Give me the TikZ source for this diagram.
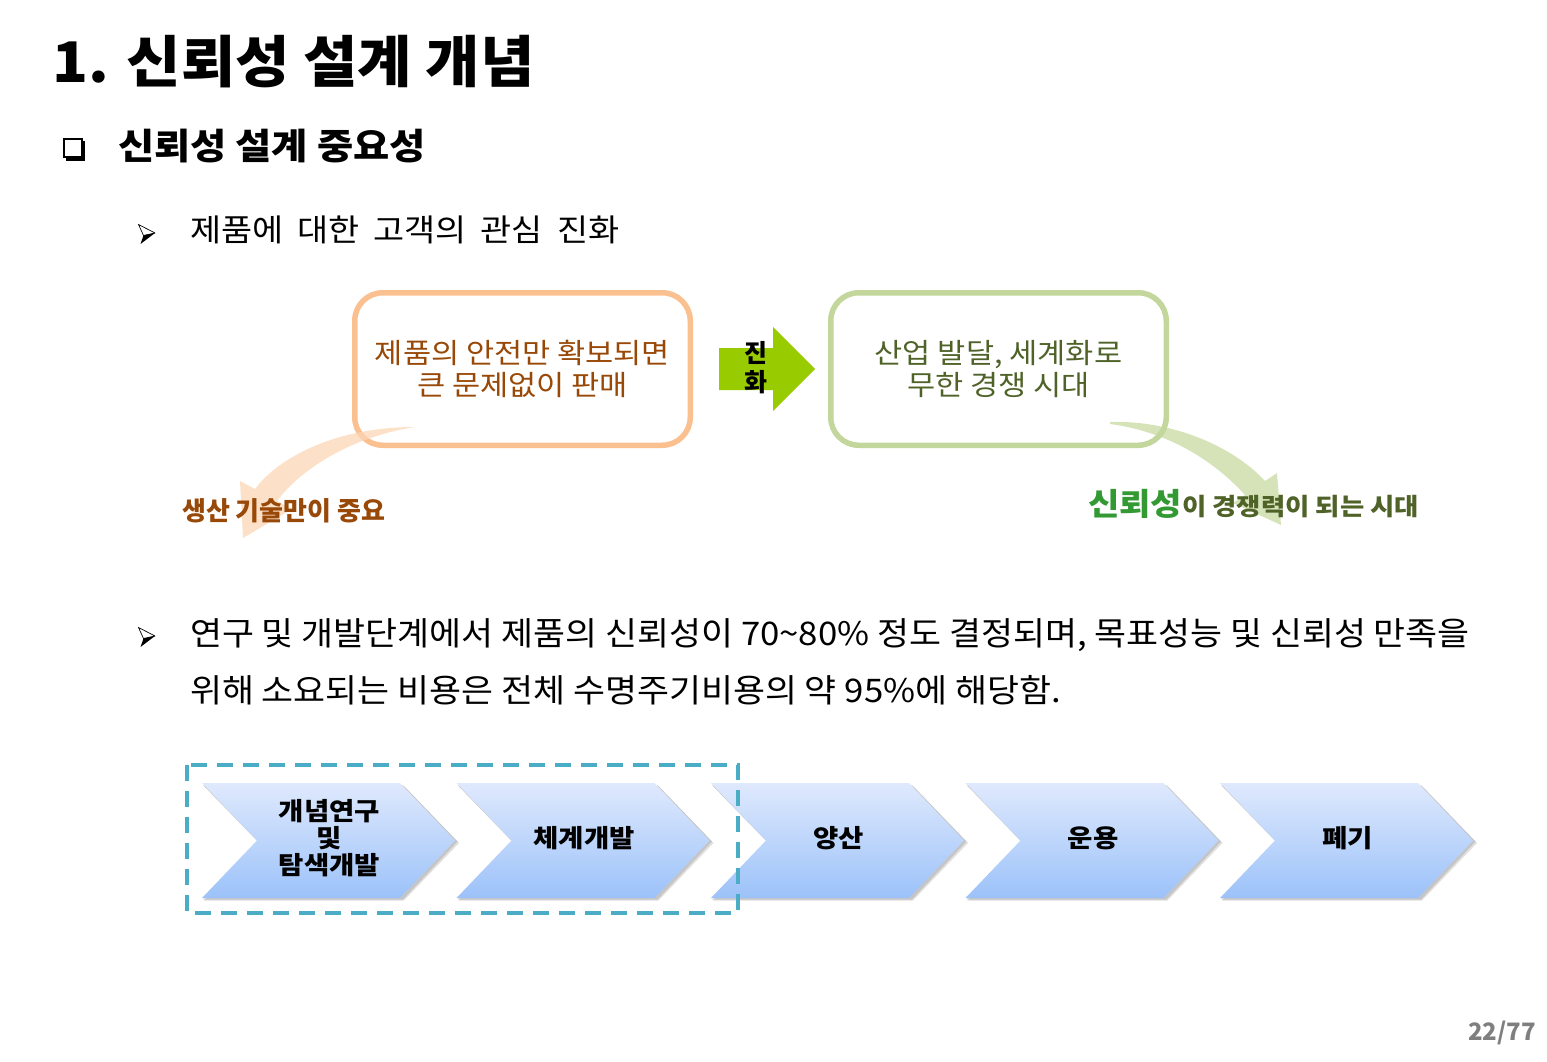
\documentclass[tikz,border=0pt]{standalone}
\usepackage{fontspec}
\setmainfont{Noto Sans CJK KR}
\definecolor{orangeB}{HTML}{FAC090}
\definecolor{greenB}{HTML}{C3D69B}
\definecolor{brownT}{HTML}{984807}
\definecolor{oliveT}{HTML}{4F6228}
\definecolor{relgreen}{HTML}{339933}
\definecolor{evoGreen}{HTML}{99CC00}
\definecolor{dashBlue}{HTML}{4BACC6}
\definecolor{chevTop}{HTML}{DFE9FD}
\definecolor{chevBot}{HTML}{9CC2F9}
\definecolor{peachArrow}{RGB}{252,213,181}
\definecolor{leafArrow}{RGB}{196,215,155}
\definecolor{pageGray}{HTML}{7F7F7F}
\newcommand{\fsz}[2]{\fontsize{#1}{#2}\selectfont}
\newcommand{\stretchby}[1]{\addfontfeatures{FakeStretch=#1}}
\newcommand{\wsp}{\hspace{14pt}}
\begin{document}
\begin{tikzpicture}[x=1pt,y=-1pt,
  txt/.style={inner sep=0pt, anchor=base west},
  roundbox/.style={draw, line width=5.5pt, rounded corners=28pt, minimum width=335.5pt,
     minimum height=152.5pt, align=center, inner sep=0pt},
  chevtext/.style={inner sep=0pt, align=center, font=\bfseries\fsz{25}{27}\stretchby{1.1}}]
\useasboundingbox (0,0) rectangle (1547,1061);

% title
\node[txt, font=\bfseries\fsz{56}{60}\stretchby{1.055}] (title) at (52,82) {1. 신뢰성 설계 개념};

% square bullet
\fill (66,141) rectangle (84.5,161);
\draw[line width=1.8pt, fill=white] (64,139) rectangle (82,157);
\node[txt, font=\bfseries\fsz{36}{40}\stretchby{1.093}] (sub) at (118,159) {신뢰성 설계 중요성};

% arrow bullets
\foreach \dy in {0,403}{
  \begin{scope}[yshift=-\dy pt]
  \draw[line width=0.7pt, fill=white, line join=round] (138.5,224.5) -- (155,233) -- (143.5,235.5) -- cycle;
  \fill (143.5,235.5) -- (155,233) -- (140.5,244) -- cycle;
  \end{scope}
}
\node[txt, font=\fsz{31}{36}\stretchby{1.09}] (line1) at (190,241) {제품에\wsp 대한\wsp 고객의\wsp 관심\wsp 진화};

% boxes
\node[roundbox, draw=orangeB, text=brownT, font=\fsz{28}{32}\stretchby{1.093}] (box1) at (522.5,369)
  {제품의 안전만 확보되면\\큰 문제없이 판매};
\node[roundbox, draw=greenB, text=oliveT, font=\fsz{28}{32}\stretchby{1.093}] (box2) at (998.5,369)
  {산업 발달, 세계화로\\무한 경쟁 시대};

% evolution arrow
\fill[evoGreen] (719,348) -- (773,348) -- (773,327) -- (815,369) -- (773,411) -- (773,390) -- (719,390) -- cycle;
\node[inner sep=0pt, align=center, font=\bfseries\fsz{25}{29}] (evo) at (756,368) {진\\화};

% curved arrows
\fill[peachArrow, opacity=0.75] (415,427) .. controls (335,427) and (278,458) .. (255,489)
  -- (240,481) -- (243,538) -- (292,509) -- (277,501)
  .. controls (300,470) and (350,437) .. (415,427) -- cycle;
\fill[leafArrow, opacity=0.7] (1110,422) .. controls (1170,420) and (1232,445) .. (1265,481)
  -- (1277,473) -- (1281,525) -- (1233,503) -- (1245,495)
  .. controls (1215,462) and (1170,432) .. (1110,424) -- cycle;

\node[txt, text=brownT, font=\bfseries\fsz{26}{30}] (lab1) at (182,520) {생산 기술만이 중요};
\node[txt, text=oliveT, font=\bfseries\fsz{24}{30}\stretchby{1.1}] (lab2) at (1088,515)
  {{\color{relgreen}\fsz{31}{34}신뢰성}이 경쟁력이 되는 시대};

% paragraph
\node[txt, font=\fsz{32.5}{36}\stretchby{1.07}] (para1) at (190,645) {연구 및 개발단계에서 제품의 신뢰성이 70\textasciitilde80\% 정도 결정되며, 목표성능 및 신뢰성 만족을};
\node[txt, font=\fsz{32.5}{36}\stretchby{1.07}] (para2) at (190,702) {위해 소요되는 비용은 전체 수명주기비용의 약 95\%에 해당함.};

% chevrons
\foreach \i in {0,...,4}{
  \begin{scope}[xshift=\i*254.5pt]
  \fill[black, opacity=0.12] (204,786) -- (404,786) -- (459,843) -- (404,900.5) -- (204,900.5) -- (259,843) -- cycle;
  \fill[black, opacity=0.12] (203,785) -- (403,785) -- (457.5,841.5) -- (403,899.5) -- (203,899.5) -- (258,841.5) -- cycle;
  \shade[top color=chevTop, bottom color=chevBot] (202,783) -- (400,783) -- (455,840.5) -- (400,898) -- (202,898) -- (257,840.5) -- cycle;
  \end{scope}
}
\node[chevtext] (c1) at (329.5,838) {개념연구\\및\\탐색개발};
\node[chevtext] (c2) at (584,838) {체계개발};
\node[chevtext] (c3) at (838.5,838) {양산};
\node[chevtext] (c4) at (1093,838) {운용};
\node[chevtext] (c5) at (1347.5,838) {폐기};

% dashed frame
\draw[dashBlue, line width=3.5pt, dash pattern=on 16pt off 10pt] (187,765) rectangle (738,913);

% page number
\node[txt, text=pageGray, font=\bfseries\fsz{24}{28}] (page) at (1468,1040) {22/77};
\end{tikzpicture}
\end{document}
